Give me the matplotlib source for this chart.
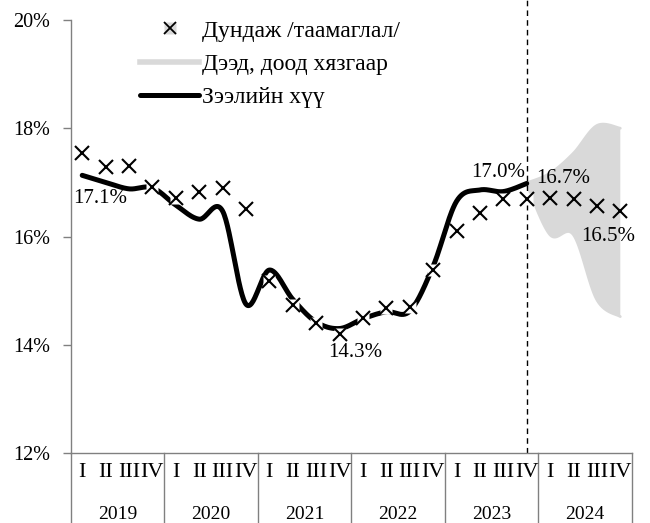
import numpy as np
import matplotlib
matplotlib.use('Agg')
import matplotlib.pyplot as plt
import matplotlib.transforms as mtransforms
from matplotlib.lines import Line2D

plt.rcParams['font.family'] = ['Liberation Serif', 'DejaVu Serif']
plt.rcParams['font.size'] = 14

years = ['2019', '2020', '2021', '2022', '2023', '2024']
quarters = ['I', 'II', 'III', 'IV']

# loan rate, 2019Q1 - 2023Q4 (%)
loan_rate = [17.13, 17.00, 16.88, 16.90, 16.58, 16.32, 16.47, 14.75,
             15.38, 14.84, 14.42, 14.30, 14.48, 14.61, 14.62, 15.45,
             16.65, 16.86, 16.83, 16.98]
# average forecast, 2019Q1 - 2024Q4 (%)
forecast_mean = [17.54, 17.29, 17.30, 16.92, 16.72, 16.82, 16.89, 16.51,
                 15.17, 14.74, 14.41, 14.20, 14.49, 14.67, 14.69, 15.39,
                 16.11, 16.44, 16.70, 16.69, 16.72, 16.70, 16.56, 16.48]
# upper / lower bound, 2023Q4 - 2024Q4 (%)
band_start = 19
band_upper = [16.99, 17.17, 17.54, 18.05, 18.00]
band_lower = [16.97, 16.03, 16.03, 14.83, 14.52]

labels_legend = ['Дундаж /таамаглал/', 'Дээд, доод хязгаар', 'Зээлийн хүү']


def smooth(x, y, steps=30):
    # bezier curve through the points, like excel "smoothed line"
    x = np.asarray(x, float)
    y = np.asarray(y, float)
    px = np.concatenate([[x[0]], x, [x[-1]]])
    py = np.concatenate([[y[0]], y, [y[-1]]])
    t = np.linspace(0, 1, steps)[1:]
    xs, ys = [x[0]], [y[0]]
    for i in range(len(x) - 1):
        p0 = np.array([px[i + 1], py[i + 1]])
        p3 = np.array([px[i + 2], py[i + 2]])
        c1 = p0 + (np.array([px[i + 2], py[i + 2]]) - np.array([px[i], py[i]])) / 6
        c2 = p3 - (np.array([px[i + 3], py[i + 3]]) - np.array([px[i + 1], py[i + 1]])) / 6
        b = ((1 - t) ** 3)[:, None] * p0 + (3 * (1 - t) ** 2 * t)[:, None] * c1 \
            + (3 * (1 - t) * t ** 2)[:, None] * c2 + (t ** 3)[:, None] * p3
        xs.extend(b[:, 0])
        ys.extend(b[:, 1])
    return np.array(xs), np.array(ys)


fig = plt.figure(figsize=(6.5, 5.23), dpi=100)
ax = fig.add_axes([0.1085, 0.1338, 0.8638, 0.828])
axis_col = '#808080'

# band
bx = np.arange(band_start, band_start + len(band_upper))
ux, uy = smooth(bx, band_upper)
lx, ly = smooth(bx, band_lower)
ax.fill(np.concatenate([ux, lx[::-1]]), np.concatenate([uy, ly[::-1]]),
        color='#d9d9d9', lw=0, zorder=1)
ax.plot(ux, uy, color='#d9d9d9', lw=2, solid_capstyle='round', zorder=1)
ax.plot(lx, ly, color='#d9d9d9', lw=2, solid_capstyle='round', zorder=1)

# forecast start
ax.plot([19, 19], [12, 20.4], color='black', lw=1, dashes=(4, 3),
        clip_on=False, zorder=2)

# loan rate
sx, sy = smooth(np.arange(len(loan_rate)), loan_rate)
ax.plot(sx, sy, color='black', lw=3.6, solid_capstyle='round', zorder=3)

# markers
qx = np.arange(len(forecast_mean))
ax.plot(qx[:len(loan_rate)], forecast_mean[:len(loan_rate)], ls='none',
        marker='s', ms=9, mfc='white', mec='none', zorder=4)
ax.plot(qx, forecast_mean, ls='none', marker='x', ms=10, mew=1.5,
        color='black', zorder=5)

# value labels
lab = dict(ha='center', va='center', fontsize=15, zorder=6)
ax.text(0.76, 16.70, '{:.1f}%'.format(loan_rate[0]), **lab)
ax.text(11.66, 13.86, '{:.1f}%'.format(min(loan_rate)), **lab)
ax.text(17.76, 17.18, '{:.1f}%'.format(loan_rate[-1]), **lab)
ax.text(20.55, 17.07, '{:.1f}%'.format(forecast_mean[20]), **lab)
ax.text(22.48, 16.00, '{:.1f}%'.format(forecast_mean[23]), **lab)

ax.set_xlim(-0.5, len(forecast_mean) - 0.5)
ax.set_ylim(12, 20)
ax.set_yticks(np.arange(12, 21, 2))
ax.set_yticklabels(['{:.0f}%'.format(v) for v in np.arange(12, 21, 2)], fontsize=14.5)
ax.tick_params(axis='y', direction='out', length=6, width=1, color=axis_col, pad=8.5)
ax.set_xticks([])
for s in ['top', 'right']:
    ax.spines[s].set_visible(False)
for s in ['left', 'bottom']:
    ax.spines[s].set_color(axis_col)
    ax.spines[s].set_linewidth(1)

# two level category axis
trans = mtransforms.blended_transform_factory(ax.transData, ax.transAxes)
for k in range(len(years) + 1):
    xb = -0.5 + 4 * k
    ax.plot([xb, xb], [0, -0.165], color=axis_col, lw=1, transform=trans, clip_on=False)
for i in range(len(forecast_mean)):
    ax.text(i, -0.046, quarters[i % 4], ha='center', va='center',
            fontsize=16, transform=trans)
for k, yr in enumerate(years):
    ax.text(4 * k + 1.5, -0.141, yr, ha='center', va='center', transform=trans)

# legend
h_mean = (Line2D([], [], ls='none', marker='s', ms=9, mfc='#d9d9d9', mec='none'),
          Line2D([], [], ls='none', marker='x', ms=9, mew=1.3, color='black'))
h_band = Line2D([], [], color='#d9d9d9', lw=4)
h_rate = Line2D([], [], color='black', lw=3.6, solid_capstyle='round')
ax.legend([h_mean, h_band, h_rate], labels_legend, loc='upper left',
          bbox_to_anchor=(0.124, 1.0), frameon=False, borderpad=0,
          borderaxespad=0, handlelength=2.5, handletextpad=0.1,
          labelspacing=0.5, fontsize=17)

plt.savefig('out.png', dpi=100)
